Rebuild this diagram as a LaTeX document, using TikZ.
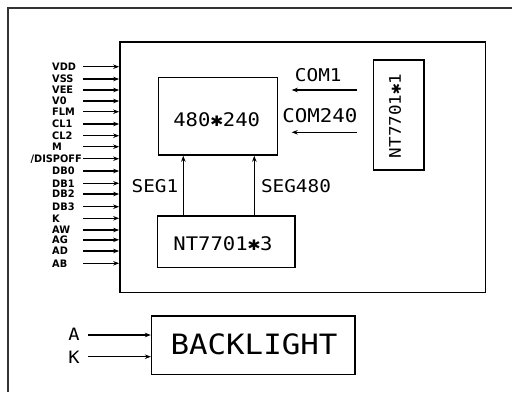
\documentclass[tikz,border=0pt]{standalone}
\usepackage{fontspec}
\usetikzlibrary{arrows.meta}
\newfontfamily\cadfont[FakeStretch=1.1]{DejaVu Sans Mono}
\newfontfamily\pinfont[FakeStretch=0.95]{DejaVu Sans}
\begin{document}
\begin{tikzpicture}[x=1pt,y=-1pt,
  box/.style={draw,line width=1.6pt,inner sep=0pt},
  arr/.style={line width=1.5pt,-{Stealth[length=6pt,width=4.5pt]}},
  pin/.style={font=\pinfont\bfseries\fontsize{10.3}{10.3}\selectfont,inner sep=0pt,anchor=west,text height=7.5pt,text depth=0pt},
  cad/.style={font=\cadfont\fontsize{#1}{#1}\selectfont,inner sep=0pt},
  cad/.default=18]
\useasboundingbox (0,0) rectangle (512,392);
\fill[white] (0,0) rectangle (512,392);
% outer frame (only top and left edges visible)
\draw[line width=1.8pt,black!80] (8,392) -- (8,8) -- (512,8);
% main module frame
\node[box,minimum width=365.7pt,minimum height=250.7pt] (frame) at (302.8,167.2) {};
% display panel
\node[box,minimum width=119pt,minimum height=77.3pt] (lcd) at (217.8,116.3) {};
\node[cad=18.7] (lcdt) at (216.7,120) {480✱240};
% common driver
\node[box,minimum width=50.7pt,minimum height=110pt] (com) at (398.7,115) {};
\node[cad=16,rotate=90] (comt) at (395,115.8) {NT7701✱1};
% segment driver
\node[box,minimum width=137.3pt,minimum height=51.6pt] (seg) at (226.3,241.5) {};
\node[cad=18.7] (segt) at (223,243.3) {NT7701✱3};
% backlight
\node[box,minimum width=203.3pt,minimum height=58.6pt] (bl) at (253.3,345) {};
\node[cad=28] (blt) at (254,344.5) {BACKLIGHT};
% COM arrows
\coordinate (c1s) at (356.7,90);
\coordinate (c2s) at (356.7,132.3);
\coordinate (c1e) at (291.7,90);
\coordinate (c2e) at (291.7,132.3);
\draw[arr] (c1s) -- (c1e);
\draw[arr] (c2s) -- (c2e);
\node[cad=17.6] (com1) at (318.3,75) {COM1};
\node[cad=18.9] (com240) at (319.8,116) {COM240};
% SEG arrows
\coordinate (s1) at (183.3,0);
\coordinate (s2) at (254.3,0);
\draw[arr] (s1 |- seg.north) -- (s1 |- lcd.south);
\draw[arr] (s2 |- seg.north) -- (s2 |- lcd.south);
\node[cad=17.6] (seg1) at (155,186) {SEG1};
\node[cad=17.6] (seg480) at (296,186) {SEG480};
% pin list
\foreach \lab/\yy in {VDD/66.7,VSS/79,VEE/90,V0/101,FLM/111.7,CL1/124,CL2/135.7,M/146.7,DB0/171,DB1/183.3,DB2/194,DB3/206.7,K/218.3,AW/230,AG/239.8,AD/251,AB/263.3}{
  \node[pin] (p\lab) at (52,\yy) {\lab};
  \coordinate (q\lab) at (83,\yy);
  \draw[arr] (q\lab) -- (q\lab -| frame.west);
}
\node[pin,anchor=east] (pDISP) at (82,158.7) {/DISPOFF};
\coordinate (qDISP) at (83,158.7);
\draw[arr] (qDISP) -- (qDISP -| frame.west);
% backlight inputs
\node[cad=17] (la) at (74,334) {A};
\node[cad=17] (lk) at (74,357) {K};
\coordinate (qa) at (88,335);
\coordinate (qk) at (88,356.7);
\draw[arr] (qa) -- (qa -| bl.west);
\draw[arr] (qk) -- (qk -| bl.west);
\end{tikzpicture}
\end{document}
